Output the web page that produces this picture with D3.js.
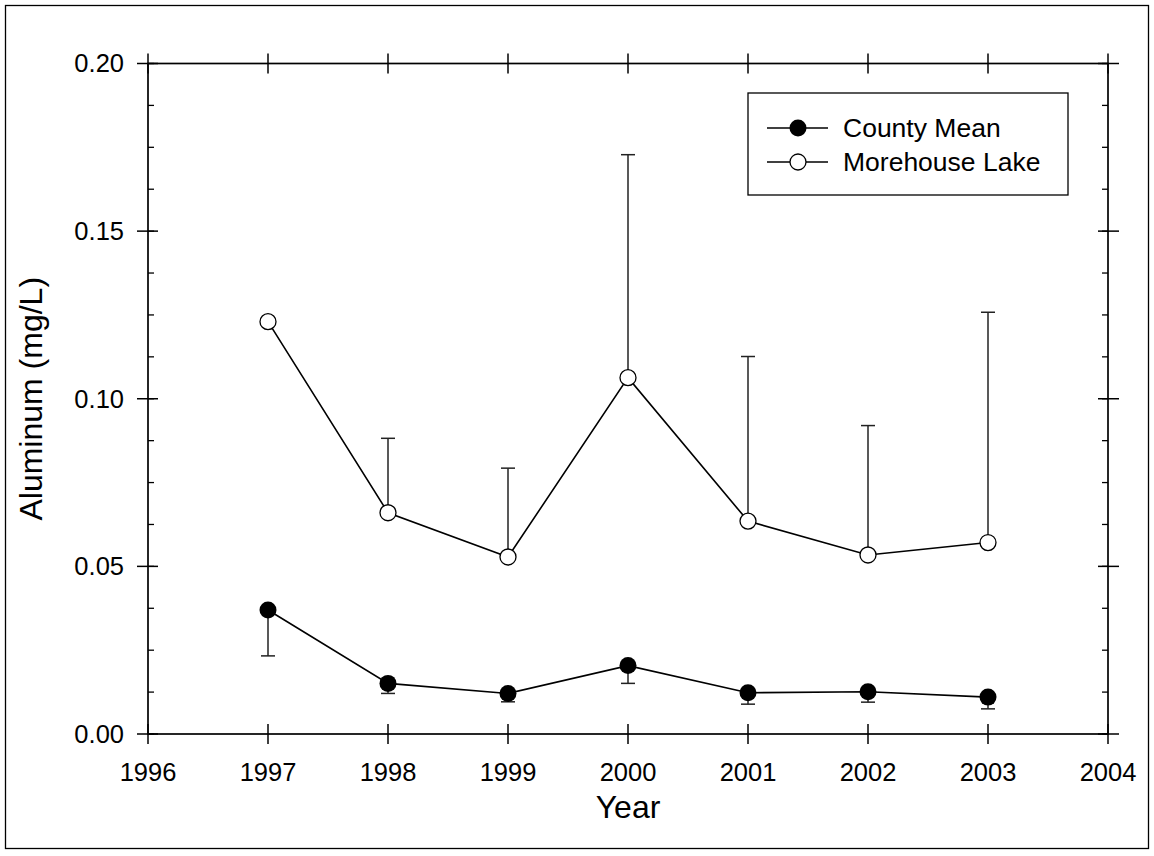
<!DOCTYPE html>
<html><head><meta charset="utf-8">
<script src="https://cdn.jsdelivr.net/npm/d3@7"></script>
<style>body{margin:0;background:#fff}svg{display:block;font-family:"Liberation Sans",Arial,sans-serif}</style>
</head><body><svg id="c" width="1154" height="856"></svg>
<script>
const years = [1997, 1998, 1999, 2000, 2001, 2002, 2003];
const countyMean = [0.0370, 0.0151, 0.0121, 0.0204, 0.0123, 0.0126, 0.0110];
const countyErrLow = [0.0233, 0.0121, 0.0096, 0.0151, 0.0089, 0.0095, 0.0075];
const morehouse = [0.1230, 0.0660, 0.0528, 0.1063, 0.0635, 0.0534, 0.0571];
const morehouseErrHigh = [null, 0.0882, 0.0793, 0.1728, 0.1126, 0.0920, 0.1258];
const xTicks = [1996, 1997, 1998, 1999, 2000, 2001, 2002, 2003, 2004];
const yTicks = [0.00, 0.05, 0.10, 0.15, 0.20];
const yMinor = d3.range(0, 0.2001, 0.0125);
const seriesNames = ["County Mean", "Morehouse Lake"];

const svg = d3.select("#c");
const L = 148, R = 1108, T = 63.5, B = 734;
const x = d3.scaleLinear().domain([1996, 2004]).range([L, R]);
const y = d3.scaleLinear().domain([0, 0.2]).range([B, T]);

svg.append("rect").attr("x", 5.5).attr("y", 5.5).attr("width", 1143).attr("height", 843)
  .attr("fill", "none").attr("stroke", "#000").attr("stroke-width", 1.3);

const g = svg.append("g");
g.append("rect").attr("x", L).attr("y", T).attr("width", R - L).attr("height", B - T)
  .attr("fill", "none").attr("stroke", "#000").attr("stroke-width", 1.7);

yMinor.forEach(v => {
  g.append("line").attr("x1", L).attr("x2", L + 6).attr("y1", y(v)).attr("y2", y(v)).attr("stroke", "#000").attr("stroke-width", 1.3);
  g.append("line").attr("x1", R - 6).attr("x2", R).attr("y1", y(v)).attr("y2", y(v)).attr("stroke", "#000").attr("stroke-width", 1.3);
});
yTicks.forEach(v => {
  g.append("line").attr("x1", L - 11).attr("x2", L + 10).attr("y1", y(v)).attr("y2", y(v)).attr("stroke", "#000").attr("stroke-width", 1.5);
  g.append("line").attr("x1", R - 10).attr("x2", R + 11).attr("y1", y(v)).attr("y2", y(v)).attr("stroke", "#000").attr("stroke-width", 1.5);
});
xTicks.forEach(v => {
  g.append("line").attr("x1", x(v)).attr("x2", x(v)).attr("y1", B - 10).attr("y2", B + 10).attr("stroke", "#000").attr("stroke-width", 1.5);
  g.append("line").attr("x1", x(v)).attr("x2", x(v)).attr("y1", T - 10).attr("y2", T + 10).attr("stroke", "#000").attr("stroke-width", 1.5);
});
g.selectAll(".yl").data(yTicks).join("text").attr("x", L - 24).attr("y", d => y(d))
  .attr("dy", "0.35em").attr("text-anchor", "end").attr("font-size", 25.5).text(d => d3.format(".2f")(d));
g.selectAll(".xl").data(xTicks).join("text").attr("x", d => x(d)).attr("y", 781)
  .attr("text-anchor", "middle").attr("font-size", 25.5).text(d => d);

svg.append("text").attr("x", (L + R) / 2).attr("y", 818).attr("text-anchor", "middle").attr("font-size", 32).text("Year");
svg.append("text").attr("transform", `translate(42,${(T + B) / 2}) rotate(-90)`).attr("text-anchor", "middle")
  .attr("font-size", 32).text("Aluminum (mg/L)");

const line = d3.line().x(d => x(d[0])).y(d => y(d[1]));
const errCol = "#222";
years.forEach((yr, i) => {
  if (morehouseErrHigh[i] != null) {
    g.append("line").attr("x1", x(yr)).attr("x2", x(yr)).attr("y1", y(morehouse[i])).attr("y2", y(morehouseErrHigh[i])).attr("stroke", errCol).attr("stroke-width", 1.5);
    g.append("line").attr("x1", x(yr) - 7).attr("x2", x(yr) + 7).attr("y1", y(morehouseErrHigh[i])).attr("y2", y(morehouseErrHigh[i])).attr("stroke", errCol).attr("stroke-width", 1.5);
  }
  g.append("line").attr("x1", x(yr)).attr("x2", x(yr)).attr("y1", y(countyMean[i])).attr("y2", y(countyErrLow[i])).attr("stroke", errCol).attr("stroke-width", 1.5);
  g.append("line").attr("x1", x(yr) - 7).attr("x2", x(yr) + 7).attr("y1", y(countyErrLow[i])).attr("y2", y(countyErrLow[i])).attr("stroke", errCol).attr("stroke-width", 1.5);
});
g.append("path").datum(years.map((d, i) => [d, morehouse[i]])).attr("d", line).attr("fill", "none").attr("stroke", "#000").attr("stroke-width", 1.6);
g.append("path").datum(years.map((d, i) => [d, countyMean[i]])).attr("d", line).attr("fill", "none").attr("stroke", "#000").attr("stroke-width", 1.6);
g.selectAll(".mo").data(years).join("circle").attr("cx", d => x(d)).attr("cy", (d, i) => y(morehouse[i]))
  .attr("r", 8).attr("fill", "#fff").attr("stroke", "#000").attr("stroke-width", 1.3);
g.selectAll(".cm").data(years).join("circle").attr("cx", d => x(d)).attr("cy", (d, i) => y(countyMean[i]))
  .attr("r", 8.5).attr("fill", "#000");

const lg = svg.append("g");
lg.append("rect").attr("x", 748).attr("y", 93).attr("width", 320).attr("height", 102).attr("fill", "#fff").attr("stroke", "#000").attr("stroke-width", 1.3);
[128, 162].forEach((ly, i) => {
  lg.append("line").attr("x1", 767).attr("x2", 828).attr("y1", ly).attr("y2", ly).attr("stroke", "#000").attr("stroke-width", 1.5);
  lg.append("circle").attr("cx", 798).attr("cy", ly).attr("r", i === 0 ? 8.5 : 8)
    .attr("fill", i === 0 ? "#000" : "#fff").attr("stroke", "#000").attr("stroke-width", i === 0 ? 0 : 1.3);
  lg.append("text").attr("x", 843).attr("y", ly).attr("dy", "0.35em").attr("font-size", 26.5).text(seriesNames[i]);
});
</script></body></html>
